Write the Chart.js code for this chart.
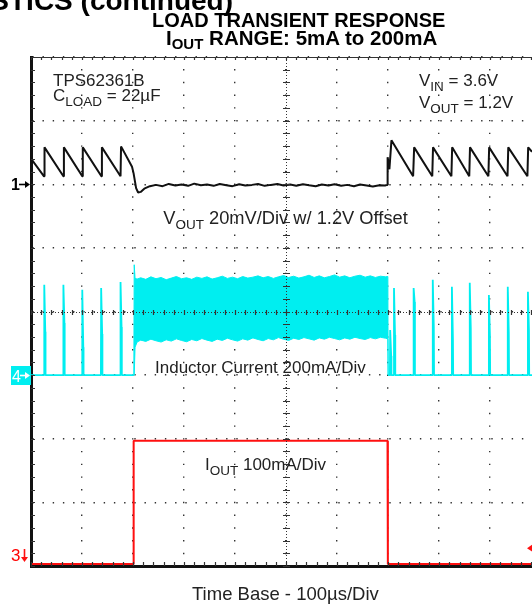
<!DOCTYPE html>
<html><head><meta charset="utf-8">
<script src="https://cdn.jsdelivr.net/npm/chart.js@4.4.0/dist/chart.umd.min.js"></script>
<style>
html,body{margin:0;padding:0;background:#fff;overflow:hidden}
#wrap{position:relative;width:532px;height:605px;font-family:"Liberation Sans",Arial,sans-serif;color:#222}
#c{position:absolute;left:0;top:0}
.t{position:absolute;white-space:nowrap;line-height:1}
.b{font-weight:bold;color:#000}
.t sub{font-size:13.5px;vertical-align:-5px;line-height:0}
.b sub{font-size:15px;vertical-align:-4px}
</style></head><body>
<div id="wrap">
<canvas id="c" width="532" height="605"></canvas>
<div class="t b" style="right:299px;top:-13.5px;font-size:28px">TYPICAL CHARACTERISTICS (continued)</div>
<div class="t b" style="left:152px;top:10px;font-size:20px">LOAD TRANSIENT RESPONSE</div>
<div class="t b" style="left:166px;top:27.7px;font-size:20.5px">I<sub>OUT</sub> RANGE: 5mA to 200mA</div>
<div class="t" style="left:53px;top:72px;font-size:17px">TPS62361B</div>
<div class="t" style="left:53px;top:87px;font-size:17px">C<sub>LOAD</sub> = 22µF</div>
<div class="t" style="left:419px;top:72px;font-size:17px">V<sub>IN</sub> = 3.6V</div>
<div class="t" style="left:419px;top:94px;font-size:17px">V<sub>OUT</sub> = 1.2V</div>
<div class="t" style="left:150px;width:271px;text-align:center;top:208.5px;font-size:18.3px">V<sub>OUT</sub> 20mV/Div w/ 1.2V Offset</div>
<div class="t" style="left:155px;top:359px;font-size:17px">Inductor Current 200mA/Div</div>
<div class="t" style="left:205px;top:456px;font-size:17px">I<sub>OUT</sub> 100mA/Div</div>
<div class="t" style="left:192px;top:584.8px;font-size:18.5px">Time Base - 100µs/Div</div>
<div class="t" style="left:11px;top:176.5px;font-size:16px;font-weight:bold;color:#000">1</div>
<div class="t" style="left:12px;top:368.5px;font-size:16px;color:#fff">4</div>
<div class="t" style="left:11px;top:547.3px;font-size:17px;color:#f00">3</div>
</div>
<script>
// ---- data (time in µs, 100 µs/div) ----
// Channel 1: V_OUT deviation from 1.2 V, mV (20 mV/div)
const voutT = [0, 25.5, 26.5, 63.5, 64.5, 100.5, 101.5, 138, 139, 175.5, 176.5,
  198, 201, 206, 210, 215, 222, 233,
  245, 258, 270, 283, 295, 308, 320, 333, 345, 358,
  370, 383, 395, 408, 420, 433, 445, 458, 470, 483,
  495, 508, 520, 533, 545, 558, 570, 583, 595, 608,
  620, 633, 645, 658, 670, 683, 694, 698,
  699, 702.5, 706.5,
  749, 751, 786.5, 788, 824, 825.5, 859, 860.5, 896.5, 898, 934, 935.5, 973, 974.5, 982];
const voutMv = [8.1, 2.5, 11.6, 2.5, 11.6, 2.5, 11.6, 2.5, 11.6, 2.5, 11.9,
  5.5, 3.5, -1.2, -2.6, -2.4, -1.4, -0.6,
  -0.2, -0.6, 0.1, -0.4, -0.1, -0.5, 0.2, -0.3, -0.1, -0.5,
  0.1, -0.3, -0.6, 0, -0.4, -0.2, 0.1, -0.5, -0.2, 0.1,
  -0.4, -0.1, -0.5, 0, -0.3, -0.6, -0.1, -0.4, 0, -0.5,
  -0.2, -0.6, -0.1, -0.4, -0.7, -0.3, -0.4, -0.2,
  8.5, 4.7, 13.8,
  2.5, 11.6, 2.5, 11.6, 2.5, 11.6, 2.5, 11.6, 2.5, 11.6, 2.5, 11.6, 2.5, 11.6, 10.2];

// Channel 4: inductor current, mA (200 mA/div) - PFM pulses at light load
const pulseT      = [26, 63.5, 100.5, 137.5, 175.5, 704, 711.5, 750, 787.5, 825, 860, 897.5, 934.5, 974];
const pulsePeakMa = [284, 284, 268, 274, 293, 142, 274, 274, 300, 278, 290, 252, 278, 262];
const pulseTailMa = [136, 164, 88, 129, 151, 60, 126, 230, 152, 113, 148, 126, 132, 142];
// PWM ripple envelope at heavy load
const bandT = [201.5, 202.3, 204, 208,
  215, 225, 235, 245, 255, 265, 275, 285, 295, 305, 315, 325, 335, 345, 355, 365, 375, 385, 395, 405,
  415, 425, 435, 445, 455, 465, 475, 485, 495, 505, 515, 525, 535, 545, 555, 565, 575, 585, 595, 605,
  615, 625, 635, 645, 655, 665, 675, 685, 695, 699.5, 700];
const bandHiMa = [0, 347, 304, 302,
  306, 301, 309, 303, 307, 300, 305, 310, 303, 306, 301, 308, 304, 309, 302, 306, 311, 304, 308, 303,
  310, 305, 308, 312, 306, 310, 304, 309, 313, 307, 311, 305, 309, 314, 307, 312, 306, 310, 315, 308,
  312, 306, 311, 314, 308, 312, 307, 311, 309, 310, 0];
const bandLoMa = [0, 0, 88, 104,
  110, 106, 113, 108, 104, 111, 107, 114, 109, 105, 112, 108, 115, 110, 106, 113, 109, 116, 111, 107,
  114, 110, 117, 112, 108, 115, 111, 118, 113, 109, 116, 112, 118, 114, 110, 117, 113, 119, 115, 111,
  117, 113, 119, 115, 112, 118, 114, 119, 116, 114, 0];

// Channel 3: I_OUT, mA (100 mA/div)
const ioutT  = [0, 200.5, 201.2, 698.8, 699.5, 982];
const ioutMa = [3, 3, 197, 197, 3, 3];
const trigLevelMa = 28;

// ---- build point lists ----
const pts = (xs, ys) => xs.map((x, i) => ({x, y: ys[i]}));
const ilPts = [{x: 0, y: 0}];
let gapDone = false;
pulseT.forEach((t, i) => {
  if (t > 700 && !gapDone) {
    ilPts.push({x: 201.5, y: 0}, {x: 450, y: null}, {x: 700, y: 0});
    gapDone = true;
  }
  ilPts.push({x: t - 0.5, y: 0}, {x: t, y: pulsePeakMa[i]}, {x: t + 2, y: pulseTailMa[i]}, {x: t + 2.5, y: 0});
});
ilPts.push({x: 982, y: 0});

const CYAN = '#00eef0', RED = '#ff1010';

const scopePlugin = {
  id: 'scope',
  afterDraw(chart) {
    const {ctx, chartArea: a, scales: {x, yV, yL, yI}} = chart;
    const px = v => x.getPixelForValue(v);
    const py = v => yV.getPixelForValue(v);
    const cx = Math.round(px(500)) + 0.5, cy = Math.round(py(-40)) + 0.5;
    ctx.save();
    ctx.strokeStyle = '#333';
    ctx.lineWidth = 1.2;
    ctx.beginPath(); ctx.moveTo(a.left, a.top + 0.5); ctx.lineTo(a.right, a.top + 0.5); ctx.stroke();
    ctx.lineWidth = 1;
    ctx.setLineDash([1, 2]);
    ctx.beginPath();
    ctx.moveTo(a.left, cy); ctx.lineTo(a.right, cy);
    ctx.moveTo(cx, a.top); ctx.lineTo(cx, a.bottom);
    ctx.stroke();
    ctx.setLineDash([]);
    ctx.lineWidth = 1.2;
    ctx.beginPath();
    for (let v = 0; v <= 982; v += 20) {
      const X = Math.round(px(v)) + 0.5;
      ctx.moveTo(X, cy - 2.5); ctx.lineTo(X, cy + 2.5);
      ctx.moveTo(X, a.top); ctx.lineTo(X, a.top + 3);
      ctx.moveTo(X, a.bottom - 4); ctx.lineTo(X, a.bottom);
    }
    for (let m = -120; m <= 40; m += 4) {
      const Y = Math.round(py(m)) + 0.5;
      ctx.moveTo(cx - 3.5, Y); ctx.lineTo(cx + 3.5, Y);
      ctx.moveTo(a.left, Y); ctx.lineTo(a.left + 4, Y);
    }
    ctx.stroke();

    const arrowR = (x0, x1, y, col) => {
      ctx.strokeStyle = col; ctx.fillStyle = col; ctx.lineWidth = 1.6;
      ctx.beginPath(); ctx.moveTo(x0, y); ctx.lineTo(x1 - 3, y); ctx.stroke();
      ctx.beginPath(); ctx.moveTo(x1, y); ctx.lineTo(x1 - 5, y - 3.5); ctx.lineTo(x1 - 5, y + 3.5); ctx.closePath(); ctx.fill();
    };
    const y1 = Math.round(py(0)) + 0.5;
    arrowR(19, 30, y1, '#000');
    const y4 = Math.round(yL.getPixelForValue(0)) + 0.5;
    ctx.fillStyle = CYAN; ctx.fillRect(11, y4 - 9.5, 20, 19);
    arrowR(20, 30, y4, '#fff');
    const y3 = yI.getPixelForValue(0) - 4;
    ctx.strokeStyle = RED; ctx.fillStyle = RED; ctx.lineWidth = 1.6;
    ctx.beginPath(); ctx.moveTo(24.5, y3 - 13); ctx.lineTo(24.5, y3 - 3); ctx.stroke();
    ctx.beginPath(); ctx.moveTo(24.5, y3); ctx.lineTo(21, y3 - 5); ctx.lineTo(28, y3 - 5); ctx.closePath(); ctx.fill();
    const yt = yI.getPixelForValue(trigLevelMa);
    ctx.beginPath(); ctx.moveTo(527, yt); ctx.lineTo(533, yt - 4); ctx.lineTo(533, yt + 4); ctx.closePath(); ctx.fill();
    ctx.restore();
  }
};

new Chart(document.getElementById('c'), {
  type: 'line',
  data: {
    datasets: [
      {label: 'I_OUT', data: pts(ioutT, ioutMa), yAxisID: 'yI', borderColor: RED, borderWidth: 2},
      {label: 'IL hi', data: pts(bandT, bandHiMa), yAxisID: 'yL', borderColor: CYAN, backgroundColor: CYAN, borderWidth: 1},
      {label: 'IL lo', data: pts(bandT, bandLoMa), yAxisID: 'yL', borderColor: CYAN, backgroundColor: CYAN, borderWidth: 1, fill: '-1'},
      {label: 'Inductor Current', data: ilPts, yAxisID: 'yL', borderColor: CYAN, borderWidth: 1.8},
      {label: 'V_OUT', data: pts(voutT, voutMv), yAxisID: 'yV', borderColor: '#111', borderWidth: 2}
    ]
  },
  options: {
    responsive: false, animation: false, devicePixelRatio: 1, events: [],
    layout: {padding: {left: 31, top: 57, right: 0, bottom: 39}},
    elements: {point: {radius: 0, hoverRadius: 0}, line: {tension: 0, borderJoinStyle: 'bevel', fill: false}},
    plugins: {legend: {display: false}, tooltip: {enabled: false}, title: {display: false}},
    scales: {
      x: {type: 'linear', min: 0, max: 982, z: 1,
        ticks: {display: false, stepSize: 100},
        afterBuildTicks: s => { s.ticks = s.ticks.filter(t => t.value % 100 === 0); },
        grid: {color: '#333', lineWidth: 1.4, drawTicks: false},
        border: {display: true, color: '#111', width: 3, dash: [1.4, 11.33], dashOffset: 0.7}},
      yV: {type: 'linear', position: 'left', min: -120, max: 40, z: 1,
        ticks: {display: false, stepSize: 20},
        grid: {color: '#333', lineWidth: 1.4, drawTicks: false},
        border: {display: true, color: '#111', width: 3, dash: [1.4, 8.8], dashOffset: 0.7}},
      yL: {type: 'linear', display: false, min: -600, max: 1000},
      yI: {type: 'linear', display: false, min: 0, max: 800}
    }
  },
  plugins: [scopePlugin]
});
</script>
</body></html>
